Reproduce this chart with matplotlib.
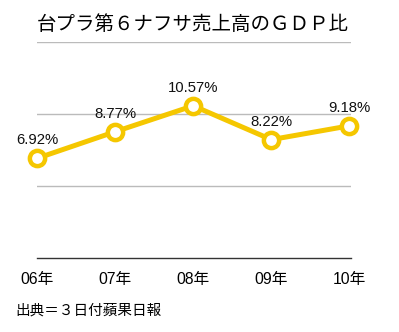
import matplotlib
matplotlib.use("Agg")
import matplotlib.pyplot as plt

plt.rcParams['font.family'] = ['Noto Sans CJK JP', 'DejaVu Sans']
num_font = ['Liberation Sans', 'Noto Sans CJK JP']

years = ["06年", "07年", "08年", "09年", "10年"]
ratio = [6.92, 8.77, 10.57, 8.22, 9.18]
labels = ["6.92%", "8.77%", "10.57%", "8.22%", "9.18%"]

title = "台プラ第６ナフサ売上高のＧＤＰ比"
source = "出典＝３日付蘋果日報"

W, H = 399, 332
fig = plt.figure(figsize=(W / 100, H / 100), dpi=100)
ax = fig.add_axes([37 / W, (H - 258) / H, (351 - 37) / W, (258 - 42) / H])

gold = "#f5c700"
x = list(range(len(years)))
ax.plot(x, ratio, color=gold, lw=3.6, marker="o", ms=11, mfc="white",
        mec=gold, mew=3.2, zorder=3, clip_on=False)

for xi, yi, s in zip(x, ratio, labels):
    ax.annotate(s, (xi, yi), xytext=(0, 13), textcoords="offset points",
                ha="center", va="center", fontsize=10.7, color="#111111",
                family=num_font)

ax.set_xlim(0, 4.02)
ax.set_ylim(0, 15)
ax.set_yticks([5, 10, 15])
ax.yaxis.grid(True, color="#bbbbbb", lw=1)
ax.set_axisbelow(True)
ax.tick_params(axis="y", left=False, labelleft=False)
ax.set_xticks(x)
ax.set_xticklabels(years, fontsize=11.3, family=num_font)
ax.tick_params(axis="x", length=0, pad=10)
for side in ["top", "right", "left"]:
    ax.spines[side].set_visible(False)
ax.spines["bottom"].set_color("#333333")
ax.spines["bottom"].set_linewidth(1)

fig.text(37 / W, 1 - 25 / H, title, fontsize=14, ha="left", va="center")
fig.text(15 / W, 1 - 311 / H, source, fontsize=10.5, ha="left", va="center")

fig.savefig("out.png", dpi=100)
